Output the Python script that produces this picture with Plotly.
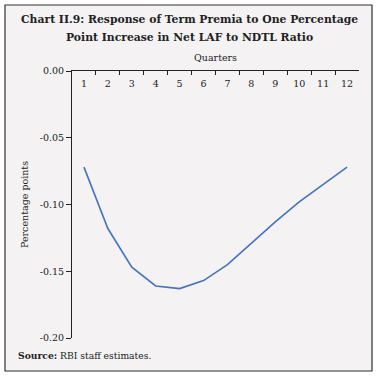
import plotly.graph_objects as go

quarters = list(range(1, 13))
quarter_labels = [str(q) for q in quarters]
response = [-0.072, -0.118, -0.147, -0.161, -0.163, -0.157, -0.145, -0.129, -0.113, -0.098, -0.085, -0.072]
ytick_vals = [0.0, -0.05, -0.10, -0.15, -0.20]
ytick_text = ["0.00", "-0.05", "-0.10", "-0.15", "-0.20"]

W, H = 378, 377
L, R, T, B = 72, 19, 71, 39
pw, ph = W - L - R, H - T - B

def px(x):
    return (x - L) / pw

def py(y):
    return (H - B - y) / ph

BG = "#F4F2F2"
INK = "#222222"
SERIF = "DejaVu Serif"
XR = [0.5, 12.5]

fig = go.Figure()
fig.add_trace(go.Scatter(x=quarters, y=response, mode="lines",
                         line=dict(color="#4472C4", width=1.6), showlegend=False))
fig.add_trace(go.Scatter(x=quarters, y=response, xaxis="x2", mode="lines",
                         line=dict(width=0), hoverinfo="skip", showlegend=False))

fig.update_layout(
    width=W, height=H,
    margin=dict(l=L, r=R, t=T, b=B),
    paper_bgcolor=BG, plot_bgcolor=BG,
    font=dict(family=SERIF, size=10, color=INK),
    xaxis=dict(side="top", range=XR, tick0=0.5, dtick=1,
               ticks="inside", ticklen=4, tickcolor=INK, showticklabels=False,
               showline=True, linecolor=INK, linewidth=1,
               showgrid=False, zeroline=False,
               title=dict(text="Quarters", font=dict(size=9.5), standoff=6)),
    xaxis2=dict(overlaying="x", anchor="free", position=1, side="bottom",
                range=XR, tickvals=quarters, ticktext=quarter_labels,
                ticks="", showline=False, showgrid=False, zeroline=False,
                ticklabelstandoff=5, tickfont=dict(size=9.5)),
    yaxis=dict(range=[-0.2, 0.0], tickvals=ytick_vals, ticktext=ytick_text,
               ticks="outside", ticklen=5, tickcolor=INK, showline=True,
               linecolor=INK, linewidth=1, showgrid=False, zeroline=False,
               title=dict(text="Percentage points", font=dict(size=9.5), standoff=9),
               tickfont=dict(size=9.5)),
    shapes=[
        dict(type="rect", xref="paper", yref="paper",
             x0=px(0), x1=px(W), y0=py(H), y1=py(0),
             line=dict(color="white", width=10), fillcolor="rgba(0,0,0,0)", layer="above"),
        dict(type="rect", xref="paper", yref="paper",
             x0=px(5), x1=px(372), y0=py(371), y1=py(5),
             line=dict(color="#333", width=1.2), fillcolor="rgba(0,0,0,0)", layer="above"),
    ],
    annotations=[
        dict(text="<b>Chart II.9: Response of Term Premia to One Percentage</b>",
             xref="paper", yref="paper", x=px(189), y=py(20), xanchor="center", yanchor="middle",
             showarrow=False, font=dict(family=SERIF, size=10.8, color=INK)),
        dict(text="<b>Point Increase in Net LAF to NDTL Ratio</b>",
             xref="paper", yref="paper", x=px(189), y=py(38), xanchor="center", yanchor="middle",
             showarrow=False, font=dict(family=SERIF, size=10.8, color=INK)),
        dict(text="<b>Source:</b> RBI staff estimates.", xref="paper", yref="paper",
             x=px(16), y=py(355), xanchor="left", yanchor="middle", showarrow=False,
             font=dict(family=SERIF, size=9.2, color=INK)),
    ],
)

fig.write_html("out.html", config={"displayModeBar": False},
               post_script="document.body.style.margin='0';")
